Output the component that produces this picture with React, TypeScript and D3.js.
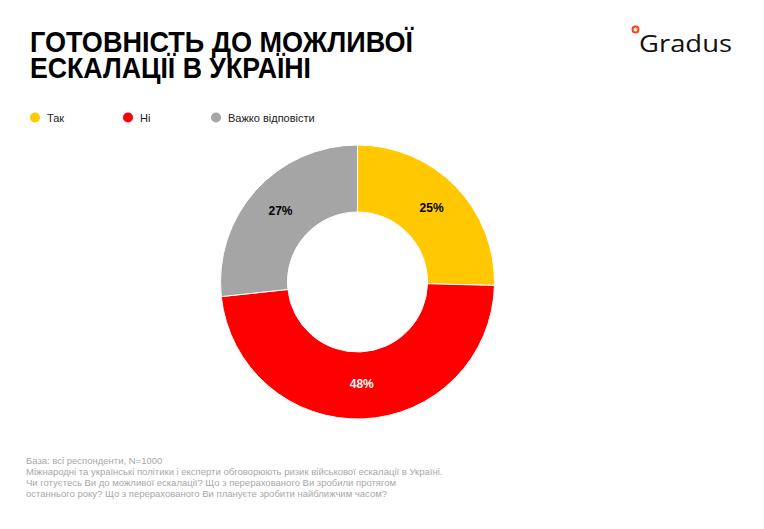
import React from "react";
import * as d3 from "d3";

const categories = ["Так", "Ні", "Важко відповісти"];
const values = [25.4, 47.9, 26.7];
const labels = ["25%", "48%", "27%"];
const colors = ["#FFC800", "#FF0000", "#A5A5A5"];
const labelColors = ["#000000", "#FFFFFF", "#000000"];
const titleLines = ["ГОТОВНІСТЬ ДО МОЖЛИВОЇ", "ЕСКАЛАЦІЇ В УКРАЇНІ"];
const footerLines = [
  "База: всі респонденти, N=1000",
  "Міжнародні та українські політики і експерти обговорюють ризик військової ескалації в Україні.",
  "Чи готуєтесь Ви до можливої ескалації? Що з перерахованого Ви зробили протягом",
  "останнього року? Що з перерахованого Ви плануєте зробити найближчим часом?",
];

const W = 764;
const H = 529;

export default function App() {
  const cx = 357.5;
  const cy = 282;
  const outerR = 137;
  const innerR = 70;
  const pie = d3.pie<number>().sort(null).value((d) => d);
  const arcs = pie(values);
  const arcGen = d3.arc<d3.PieArcDatum<number>>().innerRadius(innerR).outerRadius(outerR);
  const legendX = [35, 128, 216];
  const font = "'Liberation Sans', Arial, Helvetica, sans-serif";

  return (
    <svg
      width={W}
      height={H}
      viewBox={`0 0 ${W} ${H}`}
      style={{ position: "absolute", left: 0, top: 0, background: "#fff" }}
      fontFamily={font}
    >
      <rect x={0} y={0} width={W} height={H} fill="#fff" />
      <text fontSize={30} fontWeight="bold" fill="#000">
        {titleLines.map((t, i) => (
          <tspan
            key={i}
            x={30}
            y={51.5 + i * 26.5}
            textLength={i === 0 ? 383 : 281}
            lengthAdjust="spacingAndGlyphs"
          >
            {t}
          </tspan>
        ))}
      </text>
      {/* logo */}
      <circle cx={635.5} cy={29.5} r={3} fill="none" stroke="#FF3B1F" strokeWidth={2} />
      <circle cx={636.5} cy={28.8} r={1.1} fill="#FFC800" />
      <text
        x={639}
        y={52}
        fontSize={24}
        fill="#111"
        fontWeight={500}
        fontFamily="'Open Sans', 'Noto Sans', sans-serif"
        textLength={93}
        lengthAdjust="spacingAndGlyphs"
      >
        Gradus
      </text>
      {/* legend */}
      {categories.map((c, i) => (
        <g key={c}>
          <circle cx={legendX[i]} cy={117.5} r={5} fill={colors[i]} />
          <text x={legendX[i] + 12} y={121.5} fontSize={11} fill="#222">
            {c}
          </text>
        </g>
      ))}
      {/* donut */}
      <g transform={`translate(${cx},${cy})`}>
        {arcs.map((a, i) => (
          <path key={i} d={arcGen(a) || ""} fill={colors[i]} stroke="#fff" strokeWidth={1} />
        ))}
        {arcs.map((a, i) => {
          const [x, y] = arcGen.centroid(a);
          return (
            <text
              key={"l" + i}
              x={x}
              y={y - 2}
              dy="0.35em"
              textAnchor="middle"
              fontSize={12}
              fontWeight="bold"
              fill={labelColors[i]}
            >
              {labels[i]}
            </text>
          );
        })}
      </g>
      {/* footer */}
      {footerLines.map((t, i) => (
        <text key={i} x={26} y={463.5 + i * 11} fontSize={9.5} fill="#A8A8A8">
          {t}
        </text>
      ))}
    </svg>
  );
}
